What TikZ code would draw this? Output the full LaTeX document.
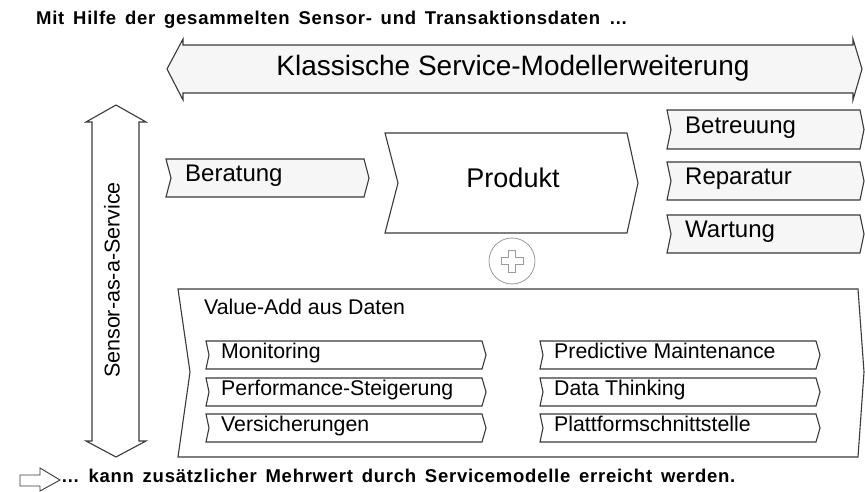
\documentclass[tikz,border=0pt]{standalone}
\usepackage{fontspec}
\setmainfont{Liberation Sans}
\newfontfamily\headfont[LetterSpace=4, WordSpace=1.5]{Liberation Sans}
\definecolor{linegray}{HTML}{3A3A3A}
\definecolor{boxgray}{HTML}{F6F6F6}
\definecolor{plusgray}{HTML}{9A9A9A}
\tikzset{
  outline/.style={draw=linegray, line width=1.1pt, line join=miter},
  chevlight/.style={outline, fill=boxgray},
  chevwhite/.style={outline, fill=white},
  lbl/.style={inner sep=0pt, text height=.716em, text depth=0pt},
  big/.style={lbl, font=\fontsize{28}{32}\selectfont},
  mid/.style={lbl, font=\fontsize{24}{28}\selectfont},
  small/.style={lbl, font=\fontsize{21.3}{24}\selectfont},
  headline/.style={lbl, font=\headfont\bfseries\fontsize{18.5}{21}\selectfont},
}
\begin{document}
\begin{tikzpicture}[x=1pt, y=-1pt]
    \useasboundingbox (0,0) rectangle (865,492);

    % Headline
    \node[headline, anchor=west] (top) at (36,21)
        {Mit Hilfe der gesammelten Sensor- und Transaktionsdaten \dots};

    % Horizontal double arrow
    \draw[chevlight] (167,69) -- (183,39) -- (183,45) -- (853,45) -- (853,39)
        -- (862,69) -- (853,100) -- (853,93) -- (183,93) -- (183,100) -- cycle;
    \node[big] (klassisch) at (513,72) {Klassische Service-Modellerweiterung};

    % Vertical double arrow
    \draw[chevwhite] (116,105) -- (146,122) -- (139,122) -- (139,441) -- (146,441)
        -- (116,457) -- (86,441) -- (92,441) -- (92,122) -- (86,122) -- cycle;
    \node[lbl, font=\fontsize{21.5}{24}\selectfont, rotate=90] (saas) at (116,280)
        {Sensor-as-a-Service};

    % Beratung
    \draw[chevlight] (166,159) -- (364,159) -- (369,178) -- (364,197) -- (166,197)
        -- (171,178) -- cycle;
    \node[mid, anchor=west] (beratung) at (185,178) {Beratung};

    % Produkt
    \draw[chevwhite] (385,133) -- (627,133) -- (638,183) -- (627,233) -- (385,233)
        -- (398,183) -- cycle;
    \node[lbl, font=\fontsize{27}{30}\selectfont] (produkt) at (513,184) {Produkt};

    % Betreuung, Reparatur, Wartung
    \draw[chevlight] (667,110) -- (860,110) -- (864,129.5) -- (860,149) -- (667,149)
        -- (671,129.5) -- cycle;
    \node[mid, anchor=west] (betreuung) at (685,130) {Betreuung};

    \draw[chevlight] (667,162) -- (860,162) -- (864,181) -- (860,200) -- (667,200)
        -- (671,181) -- cycle;
    \node[mid, anchor=west] (reparatur) at (685,181) {Reparatur};

    \draw[chevlight] (667,215) -- (860,215) -- (864,234) -- (860,253) -- (667,253)
        -- (671,234) -- cycle;
    \node[mid, anchor=west] (wartung) at (685,234) {Wartung};

    % Plus sign
    \node[circle, draw=plusgray, line width=.8pt, minimum size=46pt, inner sep=0pt]
        (plus) at (512,261) {};
    \draw[draw=plusgray, line width=.8pt] (plus.center) ++(-3.5,-11) -- ++(7,0)
        -- ++(0,7.5) -- ++(7.5,0) -- ++(0,7) -- ++(-7.5,0) -- ++(0,7.5) -- ++(-7,0)
        -- ++(0,-7.5) -- ++(-7.5,0) -- ++(0,-7) -- ++(7.5,0) -- cycle;

    % Value-Add aus Daten
    \draw[chevwhite] (178,289) -- (858,289) -- (864,372) -- (858,457) -- (178,457)
        -- (190,372) -- cycle;
    \node[small, anchor=west] (valueadd) at (204,310.5) {Value-Add aus Daten};

    \draw[chevwhite] (206,341) -- (482,341) -- (486,355) -- (482,369) -- (206,369)
        -- (209,355) -- cycle;
    \node[small, anchor=west] (monitoring) at (221,355) {Monitoring};

    \draw[chevwhite] (206,378) -- (482,378) -- (486,392) -- (482,406) -- (206,406)
        -- (209,392) -- cycle;
    \node[small, anchor=west] (performance) at (221,392) {Performance-Steigerung};

    \draw[chevwhite] (206,414) -- (482,414) -- (486,428) -- (482,442) -- (206,442)
        -- (209,428) -- cycle;
    \node[small, anchor=west] (versicherung) at (221,428) {Versicherungen};

    \draw[chevwhite] (540,341) -- (816,341) -- (820,355) -- (816,369) -- (540,369)
        -- (543,355) -- cycle;
    \node[small, anchor=west] (predictive) at (554,355) {Predictive Maintenance};

    \draw[chevwhite] (540,378) -- (816,378) -- (820,392) -- (816,406) -- (540,406)
        -- (543,392) -- cycle;
    \node[small, anchor=west] (thinking) at (554,392) {Data Thinking};

    \draw[chevwhite] (540,414) -- (816,414) -- (820,428) -- (816,442) -- (540,442)
        -- (543,428) -- cycle;
    \node[small, anchor=west] (plattform) at (554,428) {Plattformschnittstelle};

    % Closing line with block arrow
    \draw[fill=white, draw=linegray, line width=.9pt] (20,475) -- (40,475) -- (40,468)
        -- (60,480) -- (40,491) -- (40,486) -- (20,486) -- cycle;
    \node[headline, anchor=west] (bottom) at (61,478.5)
        {\dots\ kann zusätzlicher Mehrwert durch Servicemodelle erreicht werden.};
\end{tikzpicture}
\end{document}
